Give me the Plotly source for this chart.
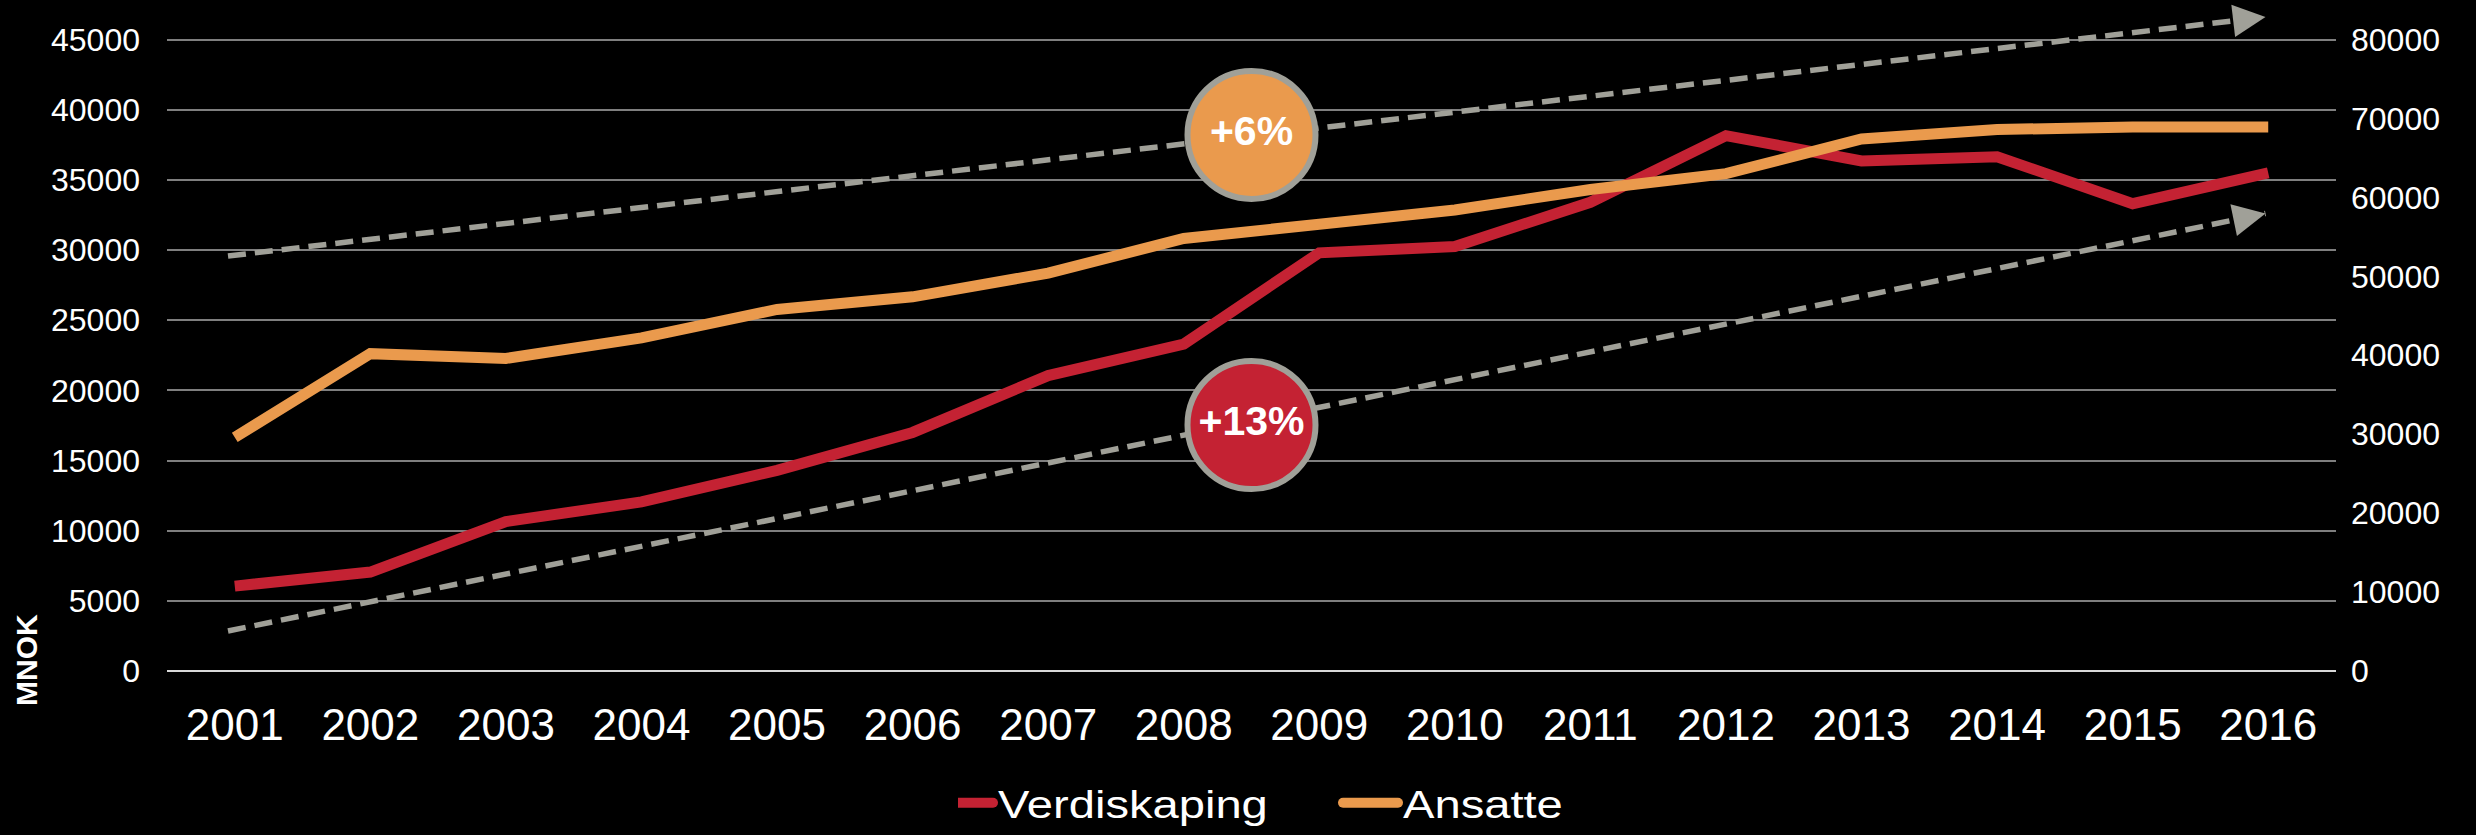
import plotly.graph_objects as go

years = list(range(2001, 2017))
year_labels = [str(y) for y in years]

verdiskaping = [6050, 7050, 10650, 12050, 14300, 17000, 21050, 23300,
                29800, 30250, 33400, 38150, 36350, 36650, 33300, 35500]
ansatte = [29600, 40200, 39600, 42200, 45800, 47400, 50400, 54800,
           56600, 58400, 61000, 63000, 67400, 68600, 68900, 68900]

left_ticks = list(range(0, 45001, 5000))
left_labels = [str(v) for v in left_ticks]
right_ticks = list(range(0, 80001, 10000))
right_labels = [str(v) for v in right_ticks]

# trend arrows (left-axis units)
trend_x = [2000.95, 2015.98]
trend_top = [29570, 46600]
trend_bottom = [2850, 32600]

badge_labels = ["+6%", "+13%"]
badge_x = [2008.5, 2008.5]
badge_y = [38200, 17530]

RED = "#C42233"
ORANGE = "#EA9A4D"
GRAY = "#A0A098"

L, R, T, B = 167, 140, 5, 164
W, H = 2476, 835
plot_w = W - L - R
plot_h = H - T - B
left_max = 45000 * plot_h / 631.5
right_max = left_max * 80000 / 45000

fig = go.Figure()

for ty in (trend_top, trend_bottom):
    fig.add_trace(go.Scatter(x=trend_x, y=ty, mode="lines", yaxis="y",
                             line=dict(color=GRAY, width=5.5, dash="18px,9px"),
                             showlegend=False, hoverinfo="skip"))

fig.add_trace(go.Scatter(x=years, y=verdiskaping, mode="lines", name="Verdiskaping",
                         yaxis="y", line=dict(color=RED, width=11)))
fig.add_trace(go.Scatter(x=years, y=ansatte, mode="lines", name="Ansatte",
                         yaxis="y2", line=dict(color=ORANGE, width=11)))

fig.add_trace(go.Scatter(x=badge_x, y=badge_y, mode="markers+text", yaxis="y",
                         text=badge_labels, textposition="middle center",
                         textfont=dict(family="Liberation Sans, Arial", size=41,
                                       color="white", weight="bold"),
                         marker=dict(size=128, color=[ORANGE, RED],
                                     line=dict(color=GRAY, width=6)),
                         showlegend=False, hoverinfo="skip", cliponaxis=False))

annotations = []
for ty in (trend_top, trend_bottom):
    slope = (ty[1] - ty[0]) / (trend_x[1] - trend_x[0])
    annotations.append(dict(x=trend_x[1], y=ty[1], xref="x", yref="y",
                            ax=trend_x[1] - 0.12, ay=ty[1] - slope * 0.12,
                            axref="x", ayref="y", showarrow=True, arrowhead=2,
                            arrowsize=1.3, arrowwidth=5, arrowcolor=GRAY, text=""))

annotations.append(dict(text="<b>MNOK</b>", x=(26 - L) / plot_w,
                        y=(H - B - 660) / plot_h, xref="paper", yref="paper",
                        xanchor="center", yanchor="middle",
                        textangle=-90, showarrow=False,
                        font=dict(family="Liberation Sans, Arial", size=30, color="white")))

fig.update_layout(
    width=W, height=H,
    paper_bgcolor="black", plot_bgcolor="black",
    margin=dict(l=L, r=R, t=T, b=B, autoexpand=False),
    font=dict(family="Liberation Sans, Arial", color="white"),
    xaxis=dict(range=[2000.5, 2016.5], tickvals=years, ticktext=year_labels,
               showgrid=False, zeroline=False, showline=False, ticks="",
               automargin=False,
               tickfont=dict(size=44, color="white"), ticklabelstandoff=24),
    yaxis=dict(range=[0, left_max], tickvals=left_ticks, ticktext=left_labels,
               showgrid=True, gridcolor="#7F7F7F", gridwidth=1.5, zeroline=True,
               zerolinecolor="#D9D9D9", zerolinewidth=2, showline=False,
               automargin=False,
               tickfont=dict(size=32, color="white"), ticklabelstandoff=26),
    yaxis2=dict(range=[0, right_max], tickvals=right_ticks, ticktext=right_labels,
                overlaying="y", side="right", showgrid=False, zeroline=False,
                showline=False, automargin=False,
                tickfont=dict(size=32, color="white"), ticklabelstandoff=14),
    legend=dict(orientation="h", x=(958 - L) / plot_w, xanchor="left",
                y=(H - B - 803) / plot_h, yanchor="middle",
                font=dict(family="Liberation Sans, Arial", size=38, color="white"),
                bgcolor="rgba(0,0,0,0)", entrywidth=360, entrywidthmode="pixels"),
    annotations=annotations,
    showlegend=True,
)

# the original legend uses horizontally widened labels and long rounded swatches
post = """
document.body.style.margin='0';
document.body.style.background='black';
function tweakLegend(){
  document.querySelectorAll('.legendtext').forEach(function(t){
    if(!t.getAttribute('data-w')){
      t.setAttribute('data-w', t.getComputedTextLength());
    }
    var w = parseFloat(t.getAttribute('data-w'));
    t.setAttribute('textLength', (w*1.24).toFixed(1));
    t.setAttribute('lengthAdjust', 'spacingAndGlyphs');
  });
  document.querySelectorAll('.legendlines path').forEach(function(p){
    p.setAttribute('d', 'M-20,0h55');
    p.style.strokeLinecap = 'round';
  });
}
tweakLegend();
setTimeout(tweakLegend, 0);
setTimeout(tweakLegend, 100);
"""

fig.write_html("out.html", config={"displayModeBar": False}, post_script=post)
